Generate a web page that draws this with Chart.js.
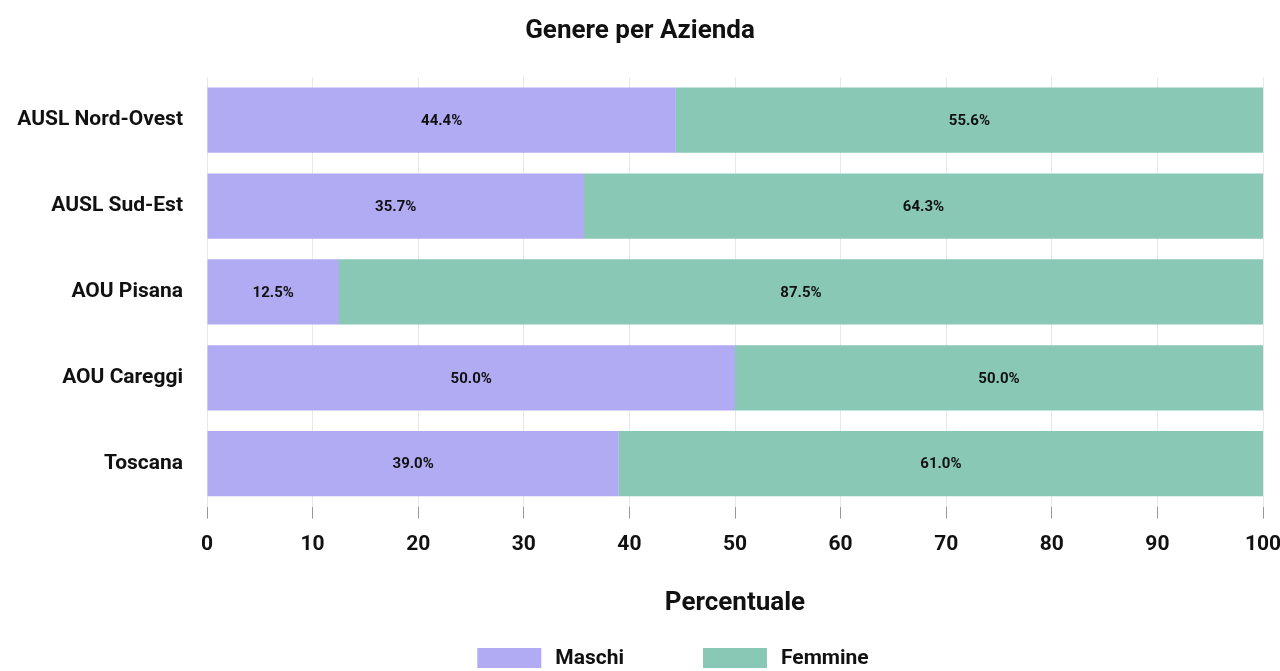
<!DOCTYPE html>
<html>
<head>
<meta charset="utf-8">
<script src="https://cdn.jsdelivr.net/npm/chart.js@4.4.0/dist/chart.umd.min.js"></script>
<style>
  html, body { margin: 0; padding: 0; background: #fff; }
  #wrap { width: 1280px; height: 671px; }
</style>
</head>
<body>
<div id="wrap"><canvas id="chart" width="1280" height="671"></canvas></div>
<script>
// dati
const aziende = ["AUSL Nord-Ovest", "AUSL Sud-Est", "AOU Pisana", "AOU Careggi", "Toscana"];
const maschi = [44.4, 35.7, 12.5, 50.0, 39.0];
const femmine = [55.6, 64.3, 87.5, 50.0, 61.0];
const xTicks = [0, 10, 20, 30, 40, 50, 60, 70, 80, 90, 100];
const serie = ["Maschi", "Femmine"];
const colori = ["#b1abf3", "#8ac8b6"];

const FONT = "Roboto, 'DejaVu Sans Condensed', sans-serif";

// etichette percentuali dentro le barre
const barLabels = {
  id: "barLabels",
  afterDatasetsDraw(chart) {
    const ctx = chart.ctx;
    ctx.save();
    ctx.font = `bold 15px ${FONT}`;
    ctx.fillStyle = "#111";
    ctx.textAlign = "center";
    ctx.textBaseline = "middle";
    chart.data.datasets.forEach((ds, i) => {
      chart.getDatasetMeta(i).data.forEach((bar, j) => {
        const left = Math.min(bar.x, bar.base);
        const right = Math.max(bar.x, bar.base);
        ctx.fillText(ds.data[j].toFixed(1) + "%", (left + right) / 2, bar.y + 1);
      });
    });
    ctx.restore();
  }
};

// legenda in basso, con più spazio tra le voci
const bottomLegend = {
  id: "bottomLegend",
  afterDraw(chart) {
    const ctx = chart.ctx;
    const boxW = 64, boxH = 20, gap = 14, itemGap = 79;
    ctx.save();
    ctx.font = `bold 21px ${FONT}`;
    const items = chart.data.datasets.map(ds => ({
      text: ds.label,
      color: ds.backgroundColor,
      w: boxW + gap + ctx.measureText(ds.label).width
    }));
    const total = items.reduce((s, it) => s + it.w, 0) + itemGap * (items.length - 1);
    let x = chart.width / 2 + 33 - total / 2;
    const y = 648;
    ctx.textBaseline = "middle";
    ctx.textAlign = "left";
    items.forEach(it => {
      ctx.fillStyle = it.color;
      ctx.fillRect(x, y, boxW, boxH);
      ctx.fillStyle = "#111";
      ctx.fillText(it.text, x + boxW + gap, y + boxH / 2 + 1);
      x += it.w + itemGap;
    });
    ctx.restore();
  }
};

new Chart(document.getElementById("chart"), {
  type: "bar",
  data: {
    labels: aziende,
    datasets: [
      { label: serie[0], data: maschi, backgroundColor: colori[0], borderWidth: 0 },
      { label: serie[1], data: femmine, backgroundColor: colori[1], borderWidth: 0 }
    ]
  },
  options: {
    indexAxis: "y",
    responsive: false,
    animation: false,
    layout: { padding: { left: 0, right: 0, top: 0, bottom: 40 } },
    datasets: { bar: { categoryPercentage: 0.76, barPercentage: 1 } },
    scales: {
      x: {
        stacked: true,
        min: 0,
        max: 100,
        afterBuildTicks: axis => { axis.ticks = xTicks.map(v => ({ value: v })); },
        afterFit: axis => { axis.paddingRight = 17; },
        grid: { color: "#e8e8e8", tickColor: "#999", tickLength: 12 },
        border: { display: false },
        ticks: { color: "#111", font: { family: FONT, size: 21, weight: "bold" }, padding: 14 },
        title: {
          display: true,
          text: "Percentuale",
          color: "#111",
          font: { family: FONT, size: 26, weight: "bold" },
          padding: { top: 16, bottom: 12 }
        }
      },
      y: {
        stacked: true,
        afterFit: axis => { axis.width = 207; },
        grid: { display: false, drawTicks: false },
        border: { display: false },
        ticks: { color: "#111", font: { family: FONT, size: 21, weight: "bold" }, padding: 24 }
      }
    },
    plugins: {
      title: {
        display: true,
        text: "Genere per Azienda",
        color: "#111",
        font: { family: FONT, size: 26, weight: "bold" },
        padding: { top: 16, bottom: 30 }
      },
      legend: { display: false },
      tooltip: { enabled: false }
    }
  },
  plugins: [barLabels, bottomLegend]
});
</script>
</body>
</html>
